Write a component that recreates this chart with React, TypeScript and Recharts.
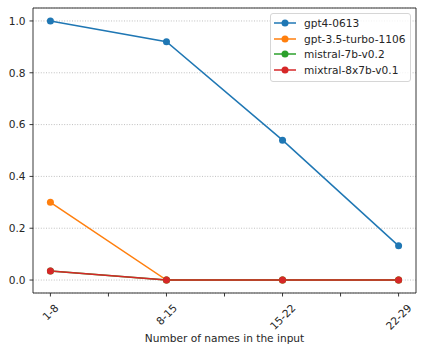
import React from 'react';
import { LineChart, Line, XAxis, YAxis, CartesianGrid, ReferenceArea, Legend, Label } from 'recharts';

const categories = ['1-8', '8-15', '15-22', '22-29'];
const gpt4 = [1.0, 0.92, 0.54, 0.132];
const gpt35 = [0.30, 0, 0, 0];
const mistral = [0.035, 0, 0, 0];
const mixtral = [0.035, 0, 0, 0];
const yTicks = [0, 0.2, 0.4, 0.6, 0.8, 1.0];
const xTicks = [0, 0.5, 1, 1.5, 2, 2.5, 3];

const series = [
  { key: 'gpt4', name: 'gpt4-0613', color: '#1f77b4' },
  { key: 'gpt35', name: 'gpt-3.5-turbo-1106', color: '#ff7f0e' },
  { key: 'mistral', name: 'mistral-7b-v0.2', color: '#2ca02c' },
  { key: 'mixtral', name: 'mixtral-8x7b-v0.1', color: '#d62728' },
];

const data = categories.map((c, i) => ({
  idx: i,
  cat: c,
  gpt4: gpt4[i],
  gpt35: gpt35[i],
  mistral: mistral[i],
  mixtral: mixtral[i],
}));

const FONT = 'DejaVu Sans, sans-serif';
const FS = 10.6;
const TXT = '#262626';

const charW = (ch: string) => (ch === '-' ? 0.361 : 0.636);
const textWidth = (s: string) => s.split('').reduce((a, ch) => a + charW(ch), 0) * FS;

const XTick = (props: any) => {
  const { x, y, payload } = props;
  const v = payload.value;
  if (!Number.isInteger(v) || v < 0 || v >= categories.length) return null;
  const label = categories[v];
  const w = textWidth(label);
  const h = FS * 1.16;
  const cy = y + (w * 0.7071 + h * 0.7071) / 2;
  return (
    <text
      x={x}
      y={cy}
      textAnchor="middle"
      dominantBaseline="central"
      transform={`rotate(-45, ${x}, ${cy})`}
      fontFamily={FONT}
      fontSize={FS}
      fill={TXT}
    >
      {label}
    </text>
  );
};

const LegendBox = () => (
  <div
    style={{
      border: '1px solid #d6d6d6',
      borderRadius: 3,
      background: 'rgba(255,255,255,0.8)',
      padding: '1px 6px 3px 2px',
      fontFamily: FONT,
      fontSize: FS,
      color: TXT,
      boxSizing: 'border-box',
      width: 141,
    }}
  >
    {series.map((s) => (
      <div key={s.key} style={{ display: 'flex', alignItems: 'center', height: 15.8, whiteSpace: 'nowrap' }}>
        <svg width={31} height={10} style={{ flex: 'none' }}>
          <line x1={1} x2={23} y1={5} y2={5} stroke={s.color} strokeWidth={1.5} />
          <circle cx={12} cy={5} r={3.5} fill={s.color} />
        </svg>
        <span>{s.name}</span>
      </div>
    ))}
  </div>
);

export default function App() {
  return (
    <div style={{ position: 'absolute', left: 0, top: 0, width: 423, height: 353, background: '#fff' }}>
      <LineChart width={423} height={353} data={data} margin={{ top: 8, right: 7, left: 0, bottom: 0 }}>
        <CartesianGrid vertical={false} stroke="#b0b0b0" strokeWidth={0.8} strokeDasharray="1 1.6" />
        <XAxis
          dataKey="idx"
          type="number"
          domain={[-0.15, 3.15]}
          ticks={xTicks}
          interval={0}
          height={60}
          tickSize={3.5}
          tickMargin={5}
          tick={<XTick />}
          axisLine={false}
          tickLine={{ stroke: '#222', strokeWidth: 0.9 }}
          allowDataOverflow
        >
          <Label
            value="Number of names in the input"
            position="insideBottom"
            offset={11}
            style={{ fontFamily: FONT, fontSize: FS, fill: TXT }}
          />
        </XAxis>
        <YAxis
          type="number"
          domain={[-0.05, 1.05]}
          ticks={yTicks}
          width={33}
          tickSize={3.5}
          tickMargin={4}
          tickFormatter={(v: number) => v.toFixed(1)}
          tick={{ fontFamily: FONT, fontSize: FS, fill: TXT }}
          axisLine={false}
          tickLine={{ stroke: '#222', strokeWidth: 0.9 }}
          allowDataOverflow
        />
        <ReferenceArea
          x1={-0.15}
          x2={3.15}
          y1={-0.05}
          y2={1.05}
          fill="none"
          fillOpacity={0}
          stroke="#222"
          strokeWidth={0.9}
          ifOverflow="visible"
        />
        {series.map((s) => (
          <Line
            key={s.key}
            dataKey={s.key}
            name={s.name}
            stroke={s.color}
            strokeWidth={1.5}
            dot={{ r: 3.5, fill: s.color, stroke: 'none' }}
            activeDot={false}
            isAnimationActive={false}
          />
        ))}
        <Legend
          layout="vertical"
          align="center"
          verticalAlign="middle"
          content={<LegendBox />}
          wrapperStyle={{ position: 'absolute', left: 270, top: 13, width: 141, right: 'auto', bottom: 'auto' }}
        />
      </LineChart>
    </div>
  );
}
